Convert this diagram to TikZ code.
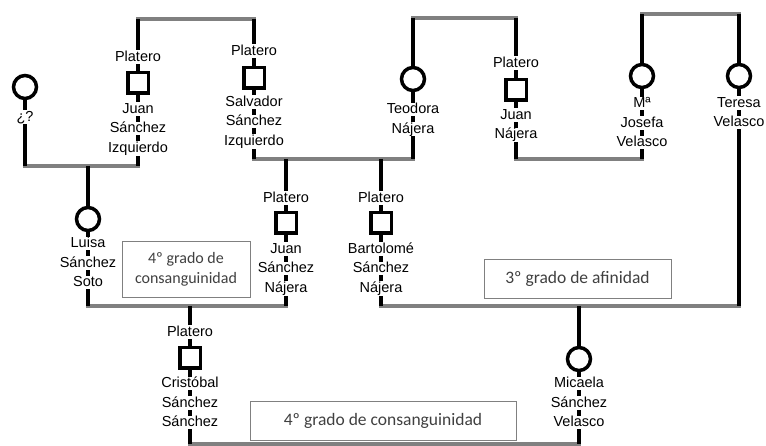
\documentclass[tikz,border=0pt]{standalone}
\usepackage{fontspec}
\setmainfont{Liberation Sans}
\newfontfamily\gradefont{Carlito}
\definecolor{tiegray}{RGB}{128,128,128}
\definecolor{gradetext}{RGB}{64,64,64}
\newcommand\wl[1]{{\setlength\fboxsep{0pt}\colorbox{white}{\rule[-2.5pt]{0pt}{13.5pt}#1}}}
\tikzset{
  kin/.style   = {line width=3.5pt, black},
  tie/.style   = {line width=3.5pt, tiegray, line cap=rect},
  man/.style   = {draw, line width=3.5pt, fill=white, minimum size=20.5pt, inner sep=0pt},
  woman/.style = {draw, circle, line width=3.5pt, fill=white, minimum size=23pt, inner sep=0pt},
  who/.style   = {align=center, inner sep=0pt, font=\fontsize{14.5}{19.5}\selectfont},
  grade/.style = {draw=tiegray, line width=0.8pt, fill=white, text=gradetext, align=center,
                  font=\gradefont\fontsize{17.5}{20}\selectfont},
}

\begin{document}
\begin{tikzpicture}[x=1pt, y=-1pt]
    \useasboundingbox (0,0) rectangle (766,446);

    % Line ends
    \coordinate (q-down)   at (25,166);
    \coordinate (jsi-up)   at (138,19);  \coordinate (jsi-down) at (138,166);
    \coordinate (ssi-up)   at (254,19);  \coordinate (ssi-down) at (254,159);
    \coordinate (tn-up)    at (413,18);  \coordinate (tn-down)  at (413,159);
    \coordinate (jn-up)    at (516,18);  \coordinate (jn-down)  at (516,159);
    \coordinate (mjv-up)   at (642,14);  \coordinate (mjv-down) at (642,159);
    \coordinate (tv-up)    at (739,14);  \coordinate (tv-down)  at (739,306);
    \coordinate (lss-up)   at (88,166);  \coordinate (lss-down) at (88,306);
    \coordinate (jsn-up)   at (286,159); \coordinate (jsn-down) at (286,306);
    \coordinate (bsn-up)   at (381,159); \coordinate (bsn-down) at (381,306);
    \coordinate (css-up)   at (190,306); \coordinate (css-down) at (190,444);
    \coordinate (msv-up)   at (579,306); \coordinate (msv-down) at (579,444);

    % Marriages and siblings (gray)
    \draw[tie] (jsi-up) -- (ssi-up);
    \draw[tie] (tn-up) -- (jn-up);
    \draw[tie] (mjv-up) -- (tv-up);
    \draw[tie] (q-down) -- (jsi-down);
    \draw[tie] (ssi-down) -- (tn-down);
    \draw[tie] (jn-down) -- (mjv-down);
    \draw[tie] (lss-down) -- (jsn-down);
    \draw[tie] (bsn-down) -- (tv-down);
    \draw[tie] (css-down) -- (msv-down);

    % Descent lines (black)
    \draw[kin] (25,87) -- (q-down);
    \foreach \p in {jsi,ssi,tn,jn,mjv,tv,lss,jsn,bsn,css,msv}
      \draw[kin] (\p-up) -- (\p-down);

    % Top row
    \node[woman] (q) at (25,87) {};
    \node[who] (q-name) at (25,117) {\wl{¿?}};
    \node[man] (jsi) at (138,83) {};
    \node[who] (jsi-job) at (138,57) {\wl{Platero}};
    \node[who] (jsi-name) at (138,129) {\wl{Juan}\\\wl{Sánchez}\\\wl{Izquierdo}};
    \node[man] (ssi) at (254,78) {};
    \node[who] (ssi-job) at (254,51) {\wl{Platero}};
    \node[who] (ssi-name) at (254,122) {\wl{Salvador}\\\wl{Sánchez}\\\wl{Izquierdo}};
    \node[woman] (tn) at (413,79) {};
    \node[who] (tn-name) at (413,119.5) {\wl{Teodora}\\\wl{Nájera}};
    \node[man] (jn) at (516,90) {};
    \node[who] (jn-job) at (516,63) {\wl{Platero}};
    \node[who] (jn-name) at (516,125) {\wl{Juan}\\\wl{Nájera}};
    \node[woman] (mjv) at (642,76) {};
    \node[who] (mjv-name) at (642,123) {\wl{Mª}\\\wl{Josefa}\\\wl{Velasco}};
    \node[woman] (tv) at (739,76) {};
    \node[who] (tv-name) at (739,113) {\wl{Teresa}\\\wl{Velasco}};

    % Middle row
    \node[woman] (lss) at (88,219) {};
    \node[who] (lss-name) at (88,263) {\wl{Luisa}\\\wl{Sánchez}\\\wl{Soto}};
    \node[man] (jsn) at (286,223) {};
    \node[who] (jsn-job) at (286,198) {\wl{Platero}};
    \node[who] (jsn-name) at (286,269) {\wl{Juan}\\\wl{Sánchez}\\\wl{Nájera}};
    \node[man] (bsn) at (381,223) {};
    \node[who] (bsn-job) at (381,198) {\wl{Platero}};
    \node[who] (bsn-name) at (381,269) {\wl{Bartolomé}\\\wl{Sánchez}\\\wl{Nájera}};

    % Bottom row
    \node[man] (css) at (190,358) {};
    \node[who] (css-job) at (190,332) {\wl{Platero}};
    \node[who] (css-name) at (190,403) {\wl{Cristóbal}\\\wl{Sánchez}\\\wl{Sánchez}};
    \node[woman] (msv) at (579,359) {};
    \node[who] (msv-name) at (579,403) {\wl{Micaela}\\\wl{Sánchez}\\\wl{Velasco}};

    % Degrees
    \node[grade, minimum width=128pt, minimum height=56pt, font=\gradefont\fontsize{16}{20}\selectfont] (deg-a) at (186,269) {4º grado de\\consanguinidad};
    \node[grade, minimum width=187pt, minimum height=39pt] (deg-b) at (577.5,278.5) {3º grado de afinidad};
    \node[grade, minimum width=266pt, minimum height=39pt] (deg-c) at (383,420.5) {4º grado de consanguinidad};
\end{tikzpicture}
\end{document}
